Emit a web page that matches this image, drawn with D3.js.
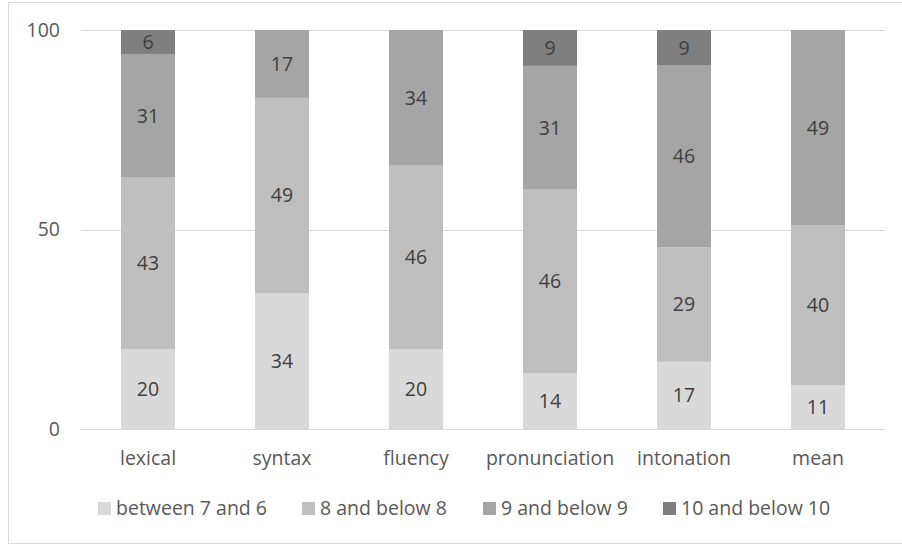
<!DOCTYPE html>
<html><head><meta charset="utf-8">
<script src="https://cdn.jsdelivr.net/npm/d3@7"></script>
<style>body{margin:0;background:#fff}svg{display:block}text{font-family:"Open Sans",sans-serif}</style>
</head><body>
<script>
const categories = ["lexical","syntax","fluency","pronunciation","intonation","mean"];
const seriesNames = ["between 7 and 6","8 and below 8","9 and below 9","10 and below 10"];
const s1 = [20,34,20,14,17,11];
const s2 = [43,49,46,46,29,40];
const s3 = [31,17,34,31,46,49];
const s4 = [6,0,0,9,9,0];
const yTicks = [0,50,100];
const colors = ["#d9d9d9","#bfbfbf","#a5a5a5","#7f7f7f"];

const FS="19.5px";
const W=902,H=546;
const svg=d3.select("body").append("svg").attr("width",W).attr("height",H);
svg.append("rect").attr("x",8.5).attr("y",2.5).attr("width",W+10).attr("height",541).attr("fill","#fff").attr("stroke","#d9d9d9");

const rows = categories.map((c,i)=>({cat:c,s0:s1[i],s1:s2[i],s2:s3[i],s3:s4[i]}));
const keys=["s0","s1","s2","s3"];
const stack=d3.stack().keys(keys).offset(d3.stackOffsetExpand);
const stacked=stack(rows);

const x=d3.scaleBand().domain(categories).range([81,885]);
const y=d3.scaleLinear().domain([0,100]).range([429,30]);
const bw=54;

svg.append("g").selectAll("line").data(yTicks).join("line")
 .attr("x1",81).attr("x2",885).attr("y1",d=>Math.round(y(d))+0.5).attr("y2",d=>Math.round(y(d))+0.5)
 .attr("stroke","#d9d9d9").attr("stroke-width",1);

const yAxis=d3.axisLeft(y).tickValues(yTicks).tickSize(0).tickPadding(0);
const ga=svg.append("g").attr("transform","translate(60,0)").call(yAxis);
ga.select(".domain").remove();
ga.selectAll("text").attr("fill","#595959").style("font-size",FS).style("font-family","'Open Sans',sans-serif");

stacked.forEach((layer,li)=>{
  const g=svg.append("g");
  layer.forEach((d,i)=>{
    const v=rows[i][keys[li]];
    if(!v) return;
    const y0=y(d[0]*100), y1=y(d[1]*100);
    const cx=x(d.data.cat)+x.bandwidth()/2;
    g.append("rect").attr("x",cx-bw/2).attr("y",y1).attr("width",bw).attr("height",y0-y1).attr("fill",colors[li]);
    g.append("text").attr("x",cx).attr("y",(y0+y1)/2).attr("dy","0.35em").attr("text-anchor","middle")
     .attr("fill","#404040").style("font-size",FS).text(v);
  });
});

svg.append("line").attr("x1",81).attr("x2",885).attr("y1",429.5).attr("y2",429.5).attr("stroke","#d9d9d9");
const xAxis=d3.axisBottom(x).tickSize(0).tickPadding(0);
const gx=svg.append("g").attr("transform","translate(0,458)").call(xAxis);
gx.select(".domain").remove();
gx.selectAll("text").attr("dy","0.35em").attr("fill","#595959").style("font-size",FS).style("font-family","'Open Sans',sans-serif");

const legX=[98,302,483,663];
const lg=svg.append("g");
seriesNames.forEach((n,i)=>{
  lg.append("rect").attr("x",legX[i]).attr("y",502).attr("width",13).attr("height",13).attr("fill",colors[i]);
  lg.append("text").attr("x",legX[i]+18).attr("y",508.5).attr("dy","0.35em").attr("fill","#595959").style("font-size",FS).text(n);
});
</script>
</body></html>
